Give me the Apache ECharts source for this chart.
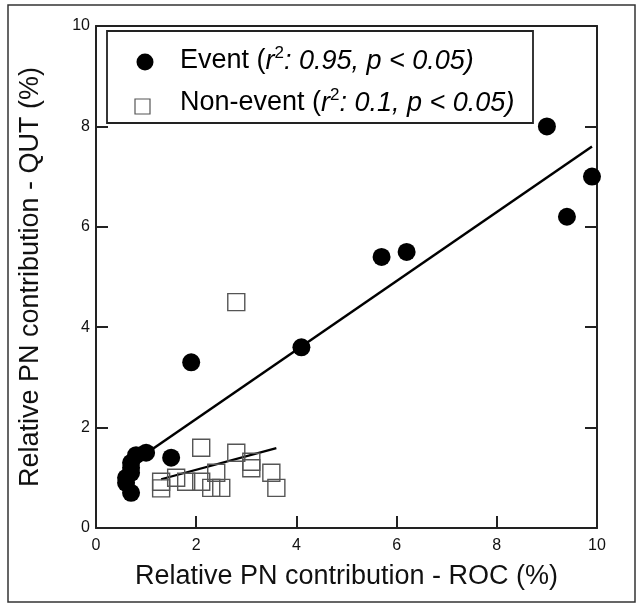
<!DOCTYPE html>
<html>
<head>
<meta charset="utf-8">
<script src="https://cdn.jsdelivr.net/npm/echarts@6/dist/echarts.min.js"></script>
<style>
html,body{margin:0;padding:0;background:#fff;}
#c{width:636px;height:605px;}
</style>
</head>
<body>
<div id="c"></div>
<script>
// ---- data ----
const eventX = [0.6, 0.7, 0.6, 0.7, 0.7, 0.7, 0.8, 1.0, 1.5, 1.9, 4.1, 5.7, 6.2, 9.0, 9.4, 9.9];
const eventY = [0.9, 0.7, 1.0, 1.1, 1.2, 1.3, 1.45, 1.5, 1.4, 3.3, 3.6, 5.4, 5.5, 8.0, 6.2, 7.0];
const nonX = [1.3, 1.3, 1.6, 1.8, 2.1, 2.3, 2.5, 2.4, 2.1, 2.8, 3.1, 3.1, 3.5, 3.6, 2.8];
const nonY = [0.92, 0.79, 1.0, 0.92, 0.92, 0.8, 0.8, 1.1, 1.6, 1.5, 1.32, 1.19, 1.1, 0.8, 4.5];
const eventFitX = [0.6, 9.9];
const eventFitY = [1.21, 7.6];
const nonFitX = [1.3, 3.6];
const nonFitY = [0.97, 1.59];
const xTicks = [0, 2, 4, 6, 8, 10];
const yTicks = [0, 2, 4, 6, 8, 10];
const xTitle = 'Relative PN contribution - ROC (%)';
const yTitle = 'Relative PN contribution - QUT (%)';
const legendEvent = ['Event (', 'r', '2', ': 0.95, p < 0.05)'];
const legendNon = ['Non-event (', 'r', '2', ': 0.1, p < 0.05)'];

const pairs = (xs, ys) => xs.map((x, i) => [x, ys[i]]);
const FONT = '"Liberation Sans", Arial, sans-serif';
const AX = '#222';

const chart = echarts.init(document.getElementById('c'), null, {renderer: 'canvas'});

const legendRich = {
  n: {fontFamily: FONT, fontSize: 27, color: '#111'},
  i: {fontFamily: FONT, fontSize: 27, color: '#111', fontStyle: 'italic'},
  s: {fontFamily: FONT, fontSize: 17, color: '#111', verticalAlign: 'top', padding: [0, 0, 16, 0]}
};
const legendText = parts => '{n|' + parts[0] + '}{i|' + parts[1] + '}{s|' + parts[2] + '}{i|' + parts[3] + '}';

chart.setOption({
  animation: false,
  backgroundColor: '#fff',
  grid: {left: 96, right: 39, top: 26, bottom: 77, show: false},
  xAxis: [{
    type: 'value', min: xTicks[0], max: xTicks[xTicks.length - 1], interval: 2,
    position: 'bottom',
    axisLine: {show: true, onZero: false, lineStyle: {color: AX, width: 2}},
    axisTick: {show: true, inside: true, length: 12, lineStyle: {color: AX, width: 2}},
    axisLabel: {color: '#111', fontFamily: FONT, fontSize: 16, margin: 10},
    splitLine: {show: false},
    name: xTitle, nameLocation: 'middle', nameGap: 35,
    nameTextStyle: {fontFamily: FONT, fontSize: 27, color: '#111'}
  }, {
    type: 'value', min: 0, max: 10, interval: 2, position: 'top',
    axisLine: {show: true, onZero: false, lineStyle: {color: AX, width: 2}},
    axisTick: {show: false}, axisLabel: {show: false}, splitLine: {show: false}
  }],
  yAxis: [{
    type: 'value', min: yTicks[0], max: yTicks[yTicks.length - 1], interval: 2,
    position: 'left',
    axisLine: {show: true, onZero: false, lineStyle: {color: AX, width: 2}},
    axisTick: {show: true, inside: true, length: 12, lineStyle: {color: AX, width: 2}},
    axisLabel: {color: '#111', fontFamily: FONT, fontSize: 16, margin: 6},
    splitLine: {show: false},
    name: yTitle, nameLocation: 'middle', nameGap: 52, nameRotate: 90,
    nameTextStyle: {fontFamily: FONT, fontSize: 27, color: '#111'}
  }, {
    type: 'value', min: 0, max: 10, interval: 2, position: 'right',
    axisLine: {show: true, onZero: false, lineStyle: {color: AX, width: 2}},
    axisTick: {show: true, inside: true, length: 12, lineStyle: {color: AX, width: 2}},
    axisLabel: {show: false}, splitLine: {show: false}
  }],
  series: [{
    type: 'line', data: pairs(eventFitX, eventFitY), showSymbol: false, symbol: 'none',
    lineStyle: {color: '#000', width: 2.5}, z: 2, silent: true
  }, {
    type: 'line', data: pairs(nonFitX, nonFitY), showSymbol: false, symbol: 'none',
    lineStyle: {color: '#000', width: 2.2}, z: 2, silent: true
  }, {
    name: 'Non-event', type: 'scatter', data: pairs(nonX, nonY), symbol: 'rect', symbolSize: 17,
    itemStyle: {color: 'rgba(255,255,255,0)', borderColor: '#555', borderWidth: 1.4, opacity: 1}, z: 3
  }, {
    name: 'Event', type: 'scatter', data: pairs(eventX, eventY), symbol: 'circle', symbolSize: 18,
    itemStyle: {color: '#000', opacity: 1}, z: 4
  }],
  graphic: [
    {type: 'rect', shape: {x: 8, y: 5, width: 627, height: 597}, style: {fill: 'none', stroke: '#333', lineWidth: 1.5}, z: 0},
    {type: 'rect', shape: {x: 107, y: 31, width: 426, height: 92}, style: {fill: '#fff', stroke: '#222', lineWidth: 1.8}, z: 10},
    {type: 'circle', shape: {cx: 145, cy: 62, r: 8.5}, style: {fill: '#000'}, z: 11},
    {type: 'rect', shape: {x: 135, y: 99, width: 15, height: 15}, style: {fill: '#fff', stroke: '#555', lineWidth: 1.2}, z: 11},
    {type: 'text', x: 180, y: 61, z: 11, style: {text: legendText(legendEvent), rich: legendRich, verticalAlign: 'middle', align: 'left'}},
    {type: 'text', x: 180, y: 103, z: 11, style: {text: legendText(legendNon), rich: legendRich, verticalAlign: 'middle', align: 'left'}}
  ]
});
</script>
</body>
</html>
